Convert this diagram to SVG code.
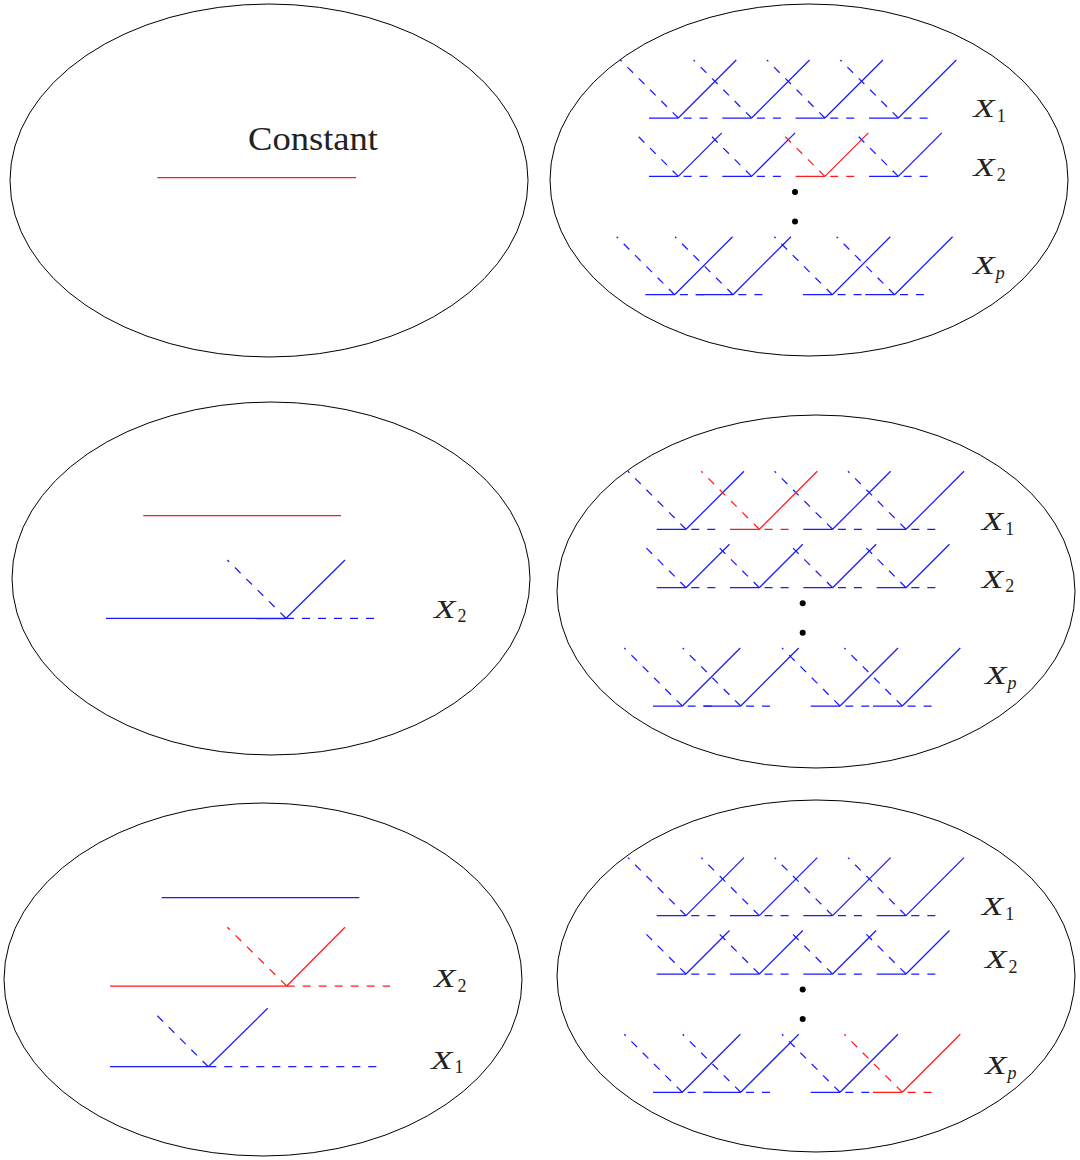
<svg xmlns="http://www.w3.org/2000/svg" width="1080" height="1160" viewBox="0 0 1080 1160">
<style>
.ell{fill:none;stroke:#000000;stroke-width:1}
.bl{fill:none;stroke:#1a1aff;stroke-width:1.25}
.bd{fill:none;stroke:#1a1aff;stroke-width:1.25;stroke-dasharray:8 8}
.rl{fill:none;stroke:#ff1a1a;stroke-width:1.25}
.rd{fill:none;stroke:#ff1a1a;stroke-width:1.25;stroke-dasharray:8 8}
.lx{font-family:'Liberation Serif','Times New Roman',serif;font-style:italic;font-size:26px;fill:#222222}
.sub{font-family:'Liberation Serif','Times New Roman',serif;font-size:18px;fill:#222222}
.subi{font-family:'Liberation Serif','Times New Roman',serif;font-style:italic;font-size:18px;fill:#222222}
.cst{font-family:'Liberation Serif','Times New Roman',serif;font-size:34px;fill:#222222}
.dot{fill:#000000}
</style>

<!-- Top-left: Constant -->
<g id="node-tl">
<ellipse class="ell" cx="269" cy="180.5" rx="259" ry="176.5"/>
<text class="cst" x="248" y="150" textLength="130" lengthAdjust="spacingAndGlyphs">Constant</text>
<path class="rl" d="M157.3 177.7H356"/>
</g>

<!-- Top-right -->
<g id="node-tr">
<ellipse class="ell" cx="809" cy="180" rx="259" ry="176"/>
<g transform="translate(-7.7,-411.3)">
<path class="bl" d="M656.7 529.3H686M686 529.3L744 471.3M730 529.3H759.3M759.3 529.3L817.3 471.3M803.3 529.3H832.6M832.6 529.3L890.6 471.3M876.7 529.3H906M906 529.3L964 471.3"/>
<path class="bd" d="M715.3 529.3H686M686 529.3L628 471.3M788.6 529.3H759.3M759.3 529.3L701.3 471.3M861.9 529.3H832.6M832.6 529.3L774.6 471.3M935.3 529.3H906M906 529.3L848 471.3"/>
<path class="bl" d="M656.7 587.7H686M686 587.7L729.5 544.2M730 587.7H759.3M759.3 587.7L802.8 544.2M876.7 587.7H906M906 587.7L949.5 544.2"/>
<path class="bd" d="M715.3 587.7H686M686 587.7L642.5 544.2M788.6 587.7H759.3M759.3 587.7L715.8 544.2M935.3 587.7H906M906 587.7L862.5 544.2"/>
<path class="rl" d="M803.3 587.7H832.6M832.6 587.7L876.1 544.2"/>
<path class="rd" d="M861.9 587.7H832.6M832.6 587.7L789.1 544.2"/>
<circle class="dot" cx="802.7" cy="603.3" r="3"/>
<circle class="dot" cx="802.7" cy="632.7" r="3"/>
<path class="bl" d="M653 706H682.3M682.3 706L740.3 648M703.3 706H740.7M740.7 706L798.7 648M810.7 706H840M840 706L898 648M873 706H902.3M902.3 706L960.3 648"/>
<path class="bd" d="M711.6 706H682.3M682.3 706L624.3 648M770 706H740.7M740.7 706L682.7 648M869.3 706H840M840 706L782 648M931.6 706H902.3M902.3 706L844.3 648"/>
</g>
<g transform="translate(973.3,117.3)"><text class="lx" transform="scale(1.35,1)">X</text><text class="sub" x="23.5" y="4.5">1</text></g>
<g transform="translate(973.3,176)"><text class="lx" transform="scale(1.35,1)">X</text><text class="sub" x="23.5" y="4.5">2</text></g>
<g transform="translate(973.3,274.3)"><text class="lx" transform="scale(1.35,1)">X</text><text class="subi" x="22.5" y="4.5">p</text></g>
</g>

<!-- Middle-left -->
<g id="node-ml">
<ellipse class="ell" cx="271" cy="578.5" rx="259" ry="176.5"/>
<path class="rl" d="M143.3 515.7H341"/>
<path class="bl" d="M106 618.3H286"/>
<path class="bl" d="M256.7 618.6H286" stroke-width="1.8"/>
<path class="bd" d="M286 618.3H382"/>
<path class="bd" d="M286 618.3L227.3 560"/>
<path class="bl" d="M286 618.3L345 560"/>
<g transform="translate(434,617.5)"><text class="lx" transform="scale(1.35,1)">X</text><text class="sub" x="23.5" y="4.5">2</text></g>
</g>

<!-- Middle-right -->
<g id="node-mr">
<ellipse class="ell" cx="816" cy="591.5" rx="259" ry="176.5"/>
<path class="bl" d="M656.7 529.3H686M686 529.3L744 471.3M803.3 529.3H832.6M832.6 529.3L890.6 471.3M876.7 529.3H906M906 529.3L964 471.3"/>
<path class="bd" d="M715.3 529.3H686M686 529.3L628 471.3M861.9 529.3H832.6M832.6 529.3L774.6 471.3M935.3 529.3H906M906 529.3L848 471.3"/>
<path class="rl" d="M730 529.3H759.3M759.3 529.3L817.3 471.3"/>
<path class="rd" d="M788.6 529.3H759.3M759.3 529.3L701.3 471.3"/>
<path class="bl" d="M656.7 587.7H686M686 587.7L729.5 544.2M730 587.7H759.3M759.3 587.7L802.8 544.2M803.3 587.7H832.6M832.6 587.7L876.1 544.2M876.7 587.7H906M906 587.7L949.5 544.2"/>
<path class="bd" d="M715.3 587.7H686M686 587.7L642.5 544.2M788.6 587.7H759.3M759.3 587.7L715.8 544.2M861.9 587.7H832.6M832.6 587.7L789.1 544.2M935.3 587.7H906M906 587.7L862.5 544.2"/>
<circle class="dot" cx="802.7" cy="603.3" r="3"/>
<circle class="dot" cx="802.7" cy="632.7" r="3"/>
<path class="bl" d="M653 706H682.3M682.3 706L740.3 648M703.3 706H740.7M740.7 706L798.7 648M810.7 706H840M840 706L898 648M873 706H902.3M902.3 706L960.3 648"/>
<path class="bd" d="M711.6 706H682.3M682.3 706L624.3 648M770 706H740.7M740.7 706L682.7 648M869.3 706H840M840 706L782 648M931.6 706H902.3M902.3 706L844.3 648"/>
<g transform="translate(981.7,530)"><text class="lx" transform="scale(1.35,1)">X</text><text class="sub" x="23.5" y="4.5">1</text></g>
<g transform="translate(981.7,587.7)"><text class="lx" transform="scale(1.35,1)">X</text><text class="sub" x="23.5" y="4.5">2</text></g>
<g transform="translate(985,684.3)"><text class="lx" transform="scale(1.35,1)">X</text><text class="subi" x="22.5" y="4.5">p</text></g>
</g>

<!-- Bottom-left -->
<g id="node-bl">
<ellipse class="ell" cx="263" cy="979.5" rx="259" ry="176.5"/>
<path class="bl" d="M161.7 897.7H359.3"/>
<path class="rl" d="M110 986H286.7"/>
<path class="rd" d="M286.7 986H390"/>
<path class="rd" d="M286.7 986L227.3 927.3"/>
<path class="rl" d="M286.7 986L345 927.3"/>
<path class="bl" d="M110 1066.7H208.3"/>
<path class="bd" d="M208.3 1066.7H382.3"/>
<path class="bd" d="M208.3 1066.7L152.3 1010.7"/>
<path class="bl" d="M208.3 1066.7L267.7 1008.3"/>
<g transform="translate(434,987.3)"><text class="lx" transform="scale(1.35,1)">X</text><text class="sub" x="23.5" y="4.5">2</text></g>
<g transform="translate(431,1068.5)"><text class="lx" transform="scale(1.35,1)">X</text><text class="sub" x="23.5" y="4.5">1</text></g>
</g>

<!-- Bottom-right -->
<g id="node-br">
<ellipse class="ell" cx="816" cy="976" rx="259" ry="176"/>
<g transform="translate(0,386.3)">
<path class="bl" d="M656.7 529.3H686M686 529.3L744 471.3M730 529.3H759.3M759.3 529.3L817.3 471.3M803.3 529.3H832.6M832.6 529.3L890.6 471.3M876.7 529.3H906M906 529.3L964 471.3"/>
<path class="bd" d="M715.3 529.3H686M686 529.3L628 471.3M788.6 529.3H759.3M759.3 529.3L701.3 471.3M861.9 529.3H832.6M832.6 529.3L774.6 471.3M935.3 529.3H906M906 529.3L848 471.3"/>
<path class="bl" d="M656.7 587.7H686M686 587.7L729.5 544.2M730 587.7H759.3M759.3 587.7L802.8 544.2M803.3 587.7H832.6M832.6 587.7L876.1 544.2M876.7 587.7H906M906 587.7L949.5 544.2"/>
<path class="bd" d="M715.3 587.7H686M686 587.7L642.5 544.2M788.6 587.7H759.3M759.3 587.7L715.8 544.2M861.9 587.7H832.6M832.6 587.7L789.1 544.2M935.3 587.7H906M906 587.7L862.5 544.2"/>
<circle class="dot" cx="802.7" cy="603.3" r="3"/>
<circle class="dot" cx="802.7" cy="632.7" r="3"/>
<path class="bl" d="M653 706H682.3M682.3 706L740.3 648M703.3 706H740.7M740.7 706L798.7 648M810.7 706H840M840 706L898 648"/>
<path class="bd" d="M711.6 706H682.3M682.3 706L624.3 648M770 706H740.7M740.7 706L682.7 648M869.3 706H840M840 706L782 648"/>
<path class="rl" d="M873 706H902.3M902.3 706L960.3 648"/>
<path class="rd" d="M931.6 706H902.3M902.3 706L844.3 648"/>
</g>
<g transform="translate(981.7,915)"><text class="lx" transform="scale(1.35,1)">X</text><text class="sub" x="23.5" y="4.5">1</text></g>
<g transform="translate(985,968.3)"><text class="lx" transform="scale(1.35,1)">X</text><text class="sub" x="23.5" y="4.5">2</text></g>
<g transform="translate(985,1074.3)"><text class="lx" transform="scale(1.35,1)">X</text><text class="subi" x="22.5" y="4.5">p</text></g>
</g>

<g id="connectors"></g>
</svg>
